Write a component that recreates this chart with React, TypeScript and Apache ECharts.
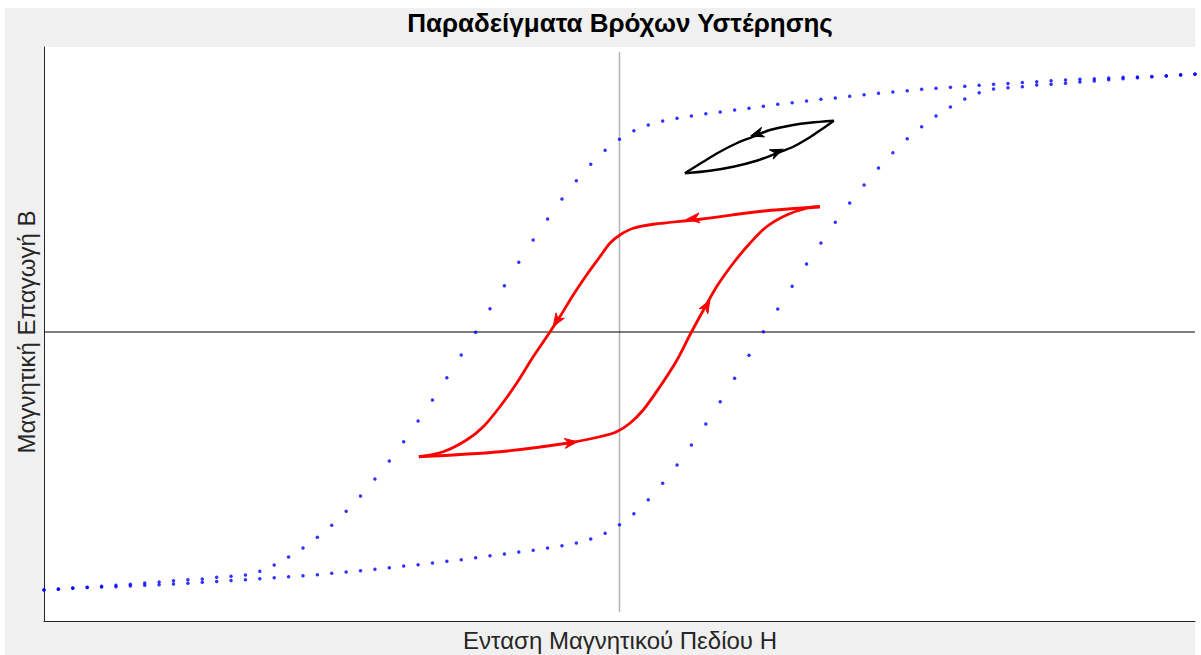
import React, { useEffect, useRef } from "react";
import * as echarts from "echarts";

const TITLE = "Παραδείγματα Βρόχων Υστέρησης";
const X_LABEL = "Ενταση Μαγνητικού Πεδίου Η";
const Y_LABEL = "Μαγνητική Επαγωγή Β";

const X_MIN = -10;
const X_MAX = 10;
const Y_MIN = -1.156;
const Y_MAX = 1.14;

// Field strength samples of the blue (major) loop
const H = [-10, -9.75, -9.5, -9.25, -9, -8.75, -8.5, -8.25, -8, -7.75, -7.5, -7.25, -7, -6.75, -6.5, -6.25, -6, -5.75, -5.5, -5.25, -5, -4.75, -4.5, -4.25, -4, -3.75, -3.5, -3.25, -3, -2.75, -2.5, -2.25, -2, -1.75, -1.5, -1.25, -1, -0.75, -0.5, -0.25, 0, 0.25, 0.5, 0.75, 1, 1.25, 1.5, 1.75, 2, 2.25, 2.5, 2.75, 3, 3.25, 3.5, 3.75, 4, 4.25, 4.5, 4.75, 5, 5.25, 5.5, 5.75, 6, 6.25, 6.5, 6.75, 7, 7.25, 7.5, 7.75, 8, 8.25, 8.5, 8.75, 9, 9.25, 9.5, 9.75, 10];

// Upper (descending) branch of the major loop
const B_DESC = [-1.032, -1.029, -1.025, -1.021, -1.017, -1.013, -1.009, -1.004, -1.0, -0.995, -0.991, -0.988, -0.981, -0.977, -0.972, -0.957, -0.932, -0.9, -0.864, -0.821, -0.773, -0.717, -0.656, -0.588, -0.516, -0.439, -0.356, -0.272, -0.183, -0.092, -0.001, 0.093, 0.185, 0.279, 0.368, 0.452, 0.532, 0.605, 0.671, 0.727, 0.771, 0.805, 0.828, 0.844, 0.855, 0.864, 0.873, 0.88, 0.888, 0.895, 0.903, 0.911, 0.917, 0.924, 0.931, 0.936, 0.943, 0.949, 0.955, 0.96, 0.965, 0.971, 0.975, 0.979, 0.983, 0.987, 0.991, 0.994, 0.998, 1.001, 1.005, 1.008, 1.011, 1.013, 1.016, 1.019, 1.02, 1.022, 1.024, 1.028, 1.031];

// Lower (ascending) branch of the major loop
const B_ASC = [-1.031, -1.028, -1.024, -1.022, -1.02, -1.019, -1.016, -1.013, -1.011, -1.008, -1.005, -1.001, -0.998, -0.994, -0.991, -0.987, -0.983, -0.979, -0.975, -0.971, -0.965, -0.96, -0.955, -0.949, -0.943, -0.936, -0.931, -0.924, -0.917, -0.911, -0.903, -0.895, -0.888, -0.88, -0.873, -0.864, -0.855, -0.844, -0.828, -0.805, -0.771, -0.727, -0.671, -0.605, -0.532, -0.452, -0.368, -0.279, -0.185, -0.093, 0.001, 0.092, 0.183, 0.272, 0.356, 0.439, 0.516, 0.588, 0.656, 0.717, 0.773, 0.821, 0.864, 0.9, 0.932, 0.957, 0.972, 0.977, 0.981, 0.988, 0.991, 0.995, 1.0, 1.004, 1.009, 1.013, 1.017, 1.021, 1.025, 1.029, 1.032];

// Red minor loop [H, B]
const RED_DESC = [[3.482, 0.501], [2.556, 0.485], [1.397, 0.451], [0.586, 0.431], [0.238, 0.415], [0.007, 0.388], [-0.167, 0.355], [-0.341, 0.301], [-0.572, 0.228], [-0.805, 0.148], [-1.036, 0.061], [-1.267, -0.02], [-1.5, -0.099], [-1.788, -0.205], [-2.078, -0.299], [-2.368, -0.379], [-2.657, -0.432], [-3.063, -0.479], [-3.486, -0.499]];
const RED_ASC = [[-3.486, -0.499], [-2.078, -0.479], [-0.919, -0.445], [-0.341, -0.419], [-0.05, -0.399], [0.181, -0.365], [0.412, -0.312], [0.702, -0.219], [0.992, -0.115], [1.223, -0.012], [1.454, 0.086], [1.687, 0.181], [1.976, 0.275], [2.266, 0.355], [2.556, 0.421], [2.904, 0.468], [3.251, 0.495], [3.482, 0.501]];

// Black small loop [H, B]
const BLACK_DESC = [[3.725, 0.845], [3.308, 0.837], [3.018, 0.828], [2.613, 0.808], [2.323, 0.781], [2.035, 0.755], [1.745, 0.721], [1.454, 0.681], [1.136, 0.635]];
const BLACK_ASC = [[1.136, 0.635], [1.571, 0.645], [1.976, 0.661], [2.382, 0.685], [2.73, 0.715], [3.018, 0.741], [3.308, 0.779], [3.54, 0.815], [3.725, 0.845]];

// Arrow heads: [tipH, tipB, tailH, tailB]
const RED_ARROWS = [[1.166, 0.451, 2.556, 0.485], [-1.152, 0.022, -0.805, 0.148], [-0.728, -0.439, -2.078, -0.479], [1.571, 0.128, 1.223, -0.012]];
const BLACK_ARROWS = [[2.278, 0.784, 2.613, 0.808], [2.845, 0.731, 2.382, 0.685]];

// Reference (zero) lines
const ZERO_V = [[0, -1.119], [0, 1.119]];
const ZERO_H = [[X_MIN, 0], [X_MAX, 0]];

function arrowSeries(data: number[][], color: string) {
  return {
    type: "custom",
    coordinateSystem: "cartesian2d",
    silent: true,
    z: 5,
    data,
    encode: { x: [0, 2], y: [1, 3] },
    renderItem: (_params: any, api: any) => {
      const tip = api.coord([api.value(0), api.value(1)]);
      const tail = api.coord([api.value(2), api.value(3)]);
      const a = Math.atan2(tip[1] - tail[1], tip[0] - tail[0]);
      const c = Math.cos(a);
      const s = Math.sin(a);
      const L = 13;
      const W = 5;
      const N = 9;
      const local = [[0, 0], [-L, -W], [-N, 0], [-L, W]];
      const pts = local.map(([x, y]) => [tip[0] + x * c - y * s, tip[1] + x * s + y * c]);
      return {
        type: "polygon",
        shape: { points: pts },
        style: { fill: color, stroke: color, lineWidth: 1 },
      };
    },
  };
}

export default function App() {
  const ref = useRef<HTMLDivElement>(null);

  useEffect(() => {
    if (!ref.current) return;
    const chart = echarts.init(ref.current, undefined, { renderer: "svg" });
    const axisCommon = {
      type: "value",
      axisLine: { show: true, onZero: false, lineStyle: { color: "#262626", width: 1 } },
      axisTick: { show: false },
      axisLabel: { show: false },
      splitLine: { show: false },
    };
    const font = "'Liberation Sans', Arial, Helvetica, sans-serif";
    chart.setOption({
      animation: false,
      backgroundColor: "transparent",
      grid: { left: 44, right: 6, top: 47, bottom: 34, show: true, backgroundColor: "#ffffff", borderWidth: 0 },
      xAxis: { ...axisCommon, min: X_MIN, max: X_MAX },
      yAxis: { ...axisCommon, min: Y_MIN, max: Y_MAX },
      graphic: [
        {
          type: "text",
          x: 620,
          y: 23,
          style: {
            text: TITLE,
            fill: "#000000",
            fontSize: 26,
            fontWeight: "bold",
            fontFamily: font,
            textAlign: "center",
            textVerticalAlign: "middle",
            align: "center",
            verticalAlign: "middle",
          },
        },
        {
          type: "text",
          x: 620,
          y: 640,
          style: {
            text: X_LABEL,
            fill: "#262626",
            fontSize: 24,
            fontFamily: font,
            textAlign: "center",
            textVerticalAlign: "middle",
            align: "center",
            verticalAlign: "middle",
          },
        },
        {
          type: "text",
          x: 26,
          y: 332,
          rotation: Math.PI / 2,
          style: {
            text: Y_LABEL,
            fill: "#262626",
            fontSize: 24,
            fontFamily: font,
            textAlign: "center",
            textVerticalAlign: "middle",
            align: "center",
            verticalAlign: "middle",
          },
        },
      ],
      series: [
        {
          type: "line",
          data: ZERO_V,
          symbol: "none",
          silent: true,
          z: 1,
          lineStyle: { color: "#b4b4b4", width: 1.5 },
        },
        {
          type: "line",
          data: ZERO_H,
          symbol: "none",
          silent: true,
          z: 1,
          lineStyle: { color: "#000000", width: 1 },
        },
        {
          type: "scatter",
          data: H.map((h, i) => [h, B_DESC[i]]),
          symbol: "circle",
          symbolSize: 3.5,
          silent: true,
          z: 2,
          itemStyle: { color: "#0000ff" },
        },
        {
          type: "scatter",
          data: H.map((h, i) => [h, B_ASC[i]]),
          symbol: "circle",
          symbolSize: 3.5,
          silent: true,
          z: 2,
          itemStyle: { color: "#0000ff" },
        },
        ...[RED_DESC, RED_ASC].map((d) => ({
          type: "line",
          data: d,
          symbol: "none",
          smooth: 0.3,
          silent: true,
          z: 3,
          lineStyle: { color: "#ff0000", width: 2.8 },
        })),
        ...[BLACK_DESC, BLACK_ASC].map((d) => ({
          type: "line",
          data: d,
          symbol: "none",
          smooth: 0.3,
          silent: true,
          z: 3,
          lineStyle: { color: "#000000", width: 2.4 },
        })),
        arrowSeries(RED_ARROWS, "#ff0000"),
        arrowSeries(BLACK_ARROWS, "#000000"),
      ],
    });
    return () => chart.dispose();
  }, []);

  return (
    <div style={{ position: "absolute", left: 0, top: 0, width: 1201, height: 655, background: "#ffffff" }}>
      <div style={{ position: "absolute", left: 5, top: 8, width: 1190, height: 647, background: "#f0f0f0" }} />
      <div ref={ref} style={{ position: "absolute", left: 0, top: 0, width: 1201, height: 655 }} />
    </div>
  );
}
